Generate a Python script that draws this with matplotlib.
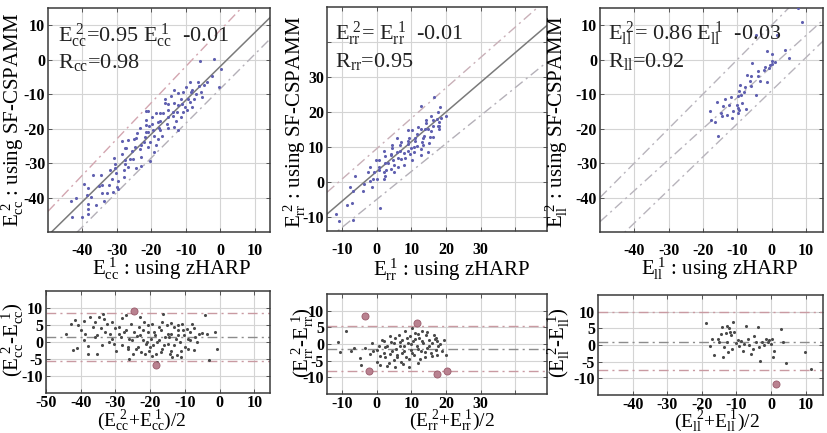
import matplotlib
matplotlib.use("Agg")
import matplotlib.pyplot as plt
import numpy as np

plt.rcParams['font.family'] = ['Liberation Serif', 'DejaVu Serif']
plt.rcParams['mathtext.fontset'] = 'custom'
plt.rcParams['mathtext.rm'] = 'Liberation Serif'
plt.rcParams['mathtext.it'] = 'Liberation Serif'
plt.rcParams['mathtext.bf'] = 'Liberation Serif:bold'
plt.rcParams['mathtext.default'] = 'rm'

# ---------------- data: Bland-Altman (mean, difference) values ----------------
cc_mean = [-44.3, -42.9, -41.7, -40.9, -42.1, -41.0, -39.2, -38.7, -37.8, -37.3, -35.8, -35.3, -34.8,
           -34.3, -33.6, -33.4, -32.4, -31.6, -30.9, -30.4, -35.3, -37.8, -29.7, -29.0, -28.5, -27.5,
           -27.0, -26.5, -26.0, -25.6, -25.1, -24.6, -23.8, -23.6, -23.1, -22.6, -22.1, -21.7, -21.2,
           -20.7, -20.2, -19.9, -19.5, -19.2, -18.7, -18.2, -17.9, -17.6, -17.0, -16.6, -16.3, -15.8,
           -15.3, -14.8, -14.3, -13.9, -13.7, -13.1, -12.7, -12.4, -11.9, -11.4, -10.9, -10.4, -10.0,
           -9.5, -9.0, -8.5, -8.0, -7.5, -7.0, -6.0, -5.1, -4.1, -3.6, -3.1, -1.2, -0.7,
           -36.0, -33.0, -31.0, -28.0, -27.0, -26.0, -24.0, -23.0, -22.0, -21.0, -20.0, -19.0, -18.0,
           -17.5, -16.0, -15.0, -14.0, -13.0, -12.0, -11.0, -10.5, -9.0, -8.5, -7.5, -6.5, -39.0,
           -34.0, -30.0, -25.0, -19.5, -16.5, -14.5, -12.0, -20.5, -23.0, -28.0, -32.0, -36.5, -40.0,
           -11.0, -14.0, -17.0, -21.5, -26.5, -29.0]
cc_diff = [2.5, 5.4, 6.4, 5.1, -2.3, -1.7, 6.2, 2.5, -1.2, 7.4, 5.9, 2.0, 7.4,
           4.2, 8.1, 6.9, 5.4, 2.5, 1.0, -0.5, -3.4, -3.4, -2.5, 4.4, 1.5, 2.9,
           7.8, -2.0, -4.9, 5.4, 0.5, 2.9, 1.7, -1.5, 4.4, -2.9, 0.5, 5.9, -0.5,
           2.9, -2.5, 1.0, 5.4, -1.0, 2.0, -3.4, -5.9, 0.5, 3.4, -2.0, 8.3, 1.5,
           4.9, -0.5, -3.4, 2.5, -4.4, 4.4, 1.0, -3.9, 3.4, 0.0, 5.4, 2.0, -1.5,
           3.9, 1.0, 2.9, 5.4, -2.3, 1.5, 2.5, 2.7, 7.8, 2.5, -5.4, 2.9, -2.0,
           1.5, 3.0, 6.0, -1.0, 3.5, 1.0, -2.0, 2.0, 3.5, 0.0, -1.5, 3.0, 0.0,
           4.5, -1.0, 2.5, 5.5, -1.0, 2.0, -2.5, 3.5, -2.0, 0.5, 4.0, 0.0, 0.5,
           -1.0, 4.0, -3.5, -4.0, 6.0, 1.5, 5.0, 5.0, 7.5, 7.0, 0.0, 4.5, 3.5,
           -4.5, -2.5, -3.0, -3.5, -1.5, 2.5]
cc_out_mean = [-24.8, -18.2]
cc_out_diff = [9.1, -6.9]

rr_mean = [-11.0, -10.5, -8.8, -6.5, -4.7, -4.6, -3.3, -1.4, -0.9, 0.1, 0.6, 1.1, 1.5, 2.0, 2.5,
           3.0, 3.5, 3.9, 4.4, 4.9, 5.0, 5.4, 5.9, 6.4, 6.6, 7.0, 7.4, 7.8, 8.3, 8.6, 9.0, 9.3,
           9.6, 10.0, 10.2, 10.5, 10.9, 11.2, 11.5, 11.9, 12.2, 12.7, 13.2, 13.4, 13.8, 14.1,
           14.6, 15.1, 15.6, 16.1, 16.5, 17.0, 17.5, 17.0, 17.7, 18.4, 18.9, 19.4, 19.9, 17.3,
           1.0, 2.5, 3.0, 4.0, 5.5, 6.0, 6.8, 7.5, 8.0, 8.8, 9.2, 10.3, 11.0, 11.8, 12.5, 13.0,
           14.0, 15.0, 16.0, 2.0, 3.8, 5.2, 7.2, 9.8, 12.0, 14.5, 16.8, -2.0, 0.0, -7.5]
rr_diff = [0.5, -2.5, 3.9, -1.2, -4.3, -6.3, -1.2, 0.3, -2.2, -5.3, -0.7, -6.3, 1.3, -2.8, -3.8,
           -0.7, -5.8, 2.3, -2.2, -4.8, 0.3, -6.8, -3.4, 2.8, -0.7, -5.3, 1.3, -2.2, 3.9, -3.8, 0.3, -6.8,
           2.3, -1.7, 4.9, 0.8, -3.3, 3.3, -0.7, -5.8, 1.8, -2.2, 3.9, 0.3, -3.8, 2.6,
           -1.2, 1.3, -2.8, 0.3, 2.8, -1.7, 0.8, 1.8, -0.7, 0.1, -2.2, 1.3, -3.3, -3.3,
           -3.5, -1.0, -6.5, 0.5, -1.5, -4.0, 0.5, -6.0, -0.5, 1.8, -4.5, -2.8, 1.5, -1.5, -4.5, 0.8,
           -2.5, -0.5, -3.5, 0.8, -3.0, 1.8, -2.8, 0.0, 3.0, 3.5, 1.5, -3.0, -1.8, -2.0]
rr_out_mean = [-3.3, -2.3, 11.7, 17.3, 20.4]
rr_out_diff = [8.3, -8.0, 6.4, -8.9, -8.0]

ll_mean = [-18.8, -17.6, -16.4, -15.4, -15.1, -14.5, -14.0, -14.2, -13.0, -12.8, -12.7, -10.9, -12.1,
           -11.9, -11.6, -11.3, -10.6, -10.1, -9.6, -9.2, -8.7, -8.2, -7.8, -7.3, -6.8, -6.3, -5.8,
           -5.3, -4.8, -4.4, -3.9, -3.6, -3.2, -2.6, -2.0, -1.5, -1.0, -0.5, -0.1, 0.2, 0.6, 0.9,
           2.8, 3.4, 4.4, 9.8, 11.4, -17.2, -12.5, -13.7]
ll_diff = [6.5, -0.2, -3.0, 1.7, 0.8, 3.2, -3.7, 5.5, 3.7, 0.9, 5.7, 6.9, 5.0,
           4.0, 3.1, -1.2, 4.0, 0.7, 1.5, -0.3, 1.2, -1.7, 0.2, 5.7, 1.7, 0.0, -2.7,
           -1.2, 2.8, 0.9, 5.3, -0.6, -4.7, 0.9, 0.1, 1.7, 0.9, 1.4, 0.4, 1.9, -3.7, -1.7,
           4.7, 0.9, -5.4, -2.0, -7.2, 1.7, -2.0, -0.7]
ll_out_mean = [1.3]
ll_out_diff = [-11.6]

# Bland-Altman reference lines (upper limit, mean, lower limit)
cc_ba_lines = [8.5, 1.5, -5.7]
rr_ba_lines = [5.4, -1.6, -8.0]
ll_ba_lines = [10.0, 0.9, -7.6]

# lines drawn on the scatter panels: (slope, intercept)
cc_solid = (0.98, -2.0)
cc_dashed = [(1.05, 8.5), (1.0, -8.5)]
rr_solid = (0.85, 3.0)
rr_dashed = [(0.87, 9.5), (0.80, -5.0)]
ll_solid = None
ll_dashed = [(1.0, 10.0), (0.90, -2.0), (0.96, -9.0)]

W, H = 827, 433
fig = plt.figure(figsize=(W / 100, H / 100), dpi=100)
fig.patch.set_facecolor('white')


def add_ax(l, t, r, b):
    ax = fig.add_axes([l / W, 1 - b / H, (r - l) / W, (b - t) / H])
    return ax, (l, t, r, b)


GRID = '#d4d4d4'
FRAME = '#3a3a3a'
DASH = (0, (7, 3, 1.5, 3))
TICKFS = 11.5
LABFS = 15
BALABFS = 14
TXTFS = 16


def style(ax, box, xlim, ylim, xticks, xlabels, yticks, ylabels, xpad, ypad):
    ax.set_xlim(*xlim)
    ax.set_ylim(*ylim)
    ax.set_xticks(xticks, xlabels, fontweight='bold', fontsize=TICKFS)
    ax.set_yticks(yticks, ylabels, fontweight='bold', fontsize=TICKFS)
    ax.grid(True, color=GRID, linewidth=0.8, linestyle='-')
    ax.set_axisbelow(True)
    ax.tick_params(direction='in', top=True, right=True, length=3, width=0.7,
                   color='#555555')
    ax.tick_params(axis='x', pad=xpad)
    ax.tick_params(axis='y', pad=ypad)
    for s in ax.spines.values():
        s.set_color(FRAME)
        s.set_linewidth(1.1)


def place_xlabel(ax, box, text, cx, cy, fs):
    l, t, r, b = box
    ax.set_xlabel(text, fontsize=fs)
    ax.xaxis.set_label_coords((cx - l) / (r - l), (b - cy) / (b - t))
    ax.xaxis.label.set_va('center')


def place_ylabel(ax, box, text, cx, cy, fs):
    l, t, r, b = box
    ax.set_ylabel(text, fontsize=fs)
    ax.yaxis.set_label_coords((cx - l) / (r - l), (b - cy) / (b - t))
    ax.yaxis.label.set_va('center')
    ax.yaxis.label.set_ha('center')


def place_text(ax, box, text, x0, ybase):
    l, t, r, b = box
    ax.text((x0 - l) / (r - l), (b - ybase) / (b - t), text, transform=ax.transAxes,
            fontsize=TXTFS, ha='left', va='baseline', color='#222222')


def scatter_panel(box_px, m, d, om, od, xlim, ylim, xt, xl, yt, yl, solid, dashed,
                  dash_colors, sub, eq, rtxt, xlab_c, ylab_c, txt_x, txt_b):
    ax, box = add_ax(*box_px)
    style(ax, box, xlim, ylim, xt, xl, yt, yl, 8, 2)
    mm = np.array(m + om)
    dd = np.array(d + od)
    # scatter coordinates recovered from the Bland-Altman mean / difference
    e1 = mm + dd / 2
    e2 = mm - dd / 2
    xs = np.array(xlim)
    for (k, c), col in zip(dashed, dash_colors):
        ax.plot(xs, k * xs + c, linestyle=DASH, color=col, linewidth=1.0)
    if solid is not None:
        ax.plot(xs, solid[0] * xs + solid[1], color='#7a7a7a', linewidth=1.1)
    ax.scatter(e1, e2, s=5, color='#6060b0', linewidths=0, zorder=3)
    place_xlabel(ax, box, r'$E_{%s}^{\ 1}$ : using zHARP' % sub, *xlab_c, LABFS)
    place_ylabel(ax, box, r'$E_{%s}^{\ 2}$ : using SF-CSPAMM' % sub, *ylab_c, LABFS)
    place_text(ax, box, eq, txt_x, txt_b[0])
    place_text(ax, box, rtxt, txt_x, txt_b[1])
    return ax


def ba_panel(box_px, m, d, om, od, lines, xlim, xt, xl, sub, xlab_c, ylab_c):
    ax, box = add_ax(*box_px)
    style(ax, box, xlim, (-15, 15), xt, xl, [-10, -5, 0, 5, 10],
          ['-10', '-5', '0', '5', '10'], 1.5, 2)
    for val, col in zip(lines, ['#c99aa2', '#8c8c8c', '#c99aa2']):
        ax.axhline(val, linestyle=DASH, color=col, linewidth=1.0)
    ax.scatter(m, d, s=5, color='#4a4a4a', linewidths=0, zorder=3)
    ax.scatter(om, od, s=26, facecolor='#b98290', edgecolor='#9a5c6c', linewidths=0.6, zorder=4)
    place_xlabel(ax, box, r'($E_{%s}^{\ 2}$+$E_{%s}^{\ 1}$)/2' % (sub, sub), *xlab_c, BALABFS)
    place_ylabel(ax, box, r'($E_{%s}^{\ 2}$-$E_{%s}^{\ 1}$)' % (sub, sub), *ylab_c, LABFS)
    return ax


t1 = [-40, -30, -20, -10, 0, 10]
t1l = ['-40', '-30', '-20', '-10', '0', '10']
t2 = [-10, 0, 10, 20, 30, 40]
t2l = ['-10', '0', '10', '20', '30', '']

scatter_panel((48, 8, 270, 232), cc_mean, cc_diff, cc_out_mean, cc_out_diff,
              (-50, 14.5), (-50, 15), t1, t1l, t1, t1l, cc_solid, cc_dashed,
              ['#d3a6b0', '#b4b0b8'], 'cc',
              r'$E_{cc}^{\ 2}$=0.95 $E_{cc}^{\ 1}$  -0.01', r'$R_{cc}$=0.98',
              (172, 269), (13, 120), 58, (42, 68))
scatter_panel((327, 7, 547, 231), rr_mean, rr_diff, rr_out_mean, rr_out_diff,
              (-14.3, 49.1), (-14, 50), t2, t2l, t2, t2l, rr_solid, rr_dashed,
              ['#c9b0b8', '#b4b0b8'], 'rr',
              r'$E_{rr}^{\ 2}$= $E_{rr}^{\ 1}$  -0.01', r'$R_{rr}$=0.95',
              (452, 270), (295, 122), 335, (40, 67))
scatter_panel((600, 8, 823, 232), ll_mean, ll_diff, ll_out_mean, ll_out_diff,
              (-50, 15), (-50, 15), t1, t1l, t1, t1l, ll_solid, ll_dashed,
              ['#b8b4bc', '#b8b4bc', '#b8b4bc'], 'll',
              r'$E_{ll}^{\ 2}$= 0.86 $E_{ll}^{\ 1}$  -0.03', r'$R_{ll}$=0.92',
              (720, 269), (557, 122), 608, (40, 67))

t4 = [-50, -40, -30, -20, -10, 0, 10]
t4l = ['-50', '-40', '-30', '-20', '-10', '0', '10']
ba_panel((46, 291, 270, 393), cc_mean, cc_diff, cc_out_mean, cc_out_diff, cc_ba_lines,
         (-50, 14.5), t4, t4l, 'cc', (142, 421), (13, 340))
ba_panel((327, 294, 547, 394), rr_mean, rr_diff, rr_out_mean, rr_out_diff, rr_ba_lines,
         (-14.3, 49.1), t2, t2l, 'rr', (452, 421), (303, 343))
ba_panel((598, 295, 823, 395), ll_mean, ll_diff, ll_out_mean, ll_out_diff, ll_ba_lines,
         (-50, 15), t1, t1l, 'll', (717, 421), (559, 343))

fig.savefig('out.png', dpi=100, facecolor='white')
